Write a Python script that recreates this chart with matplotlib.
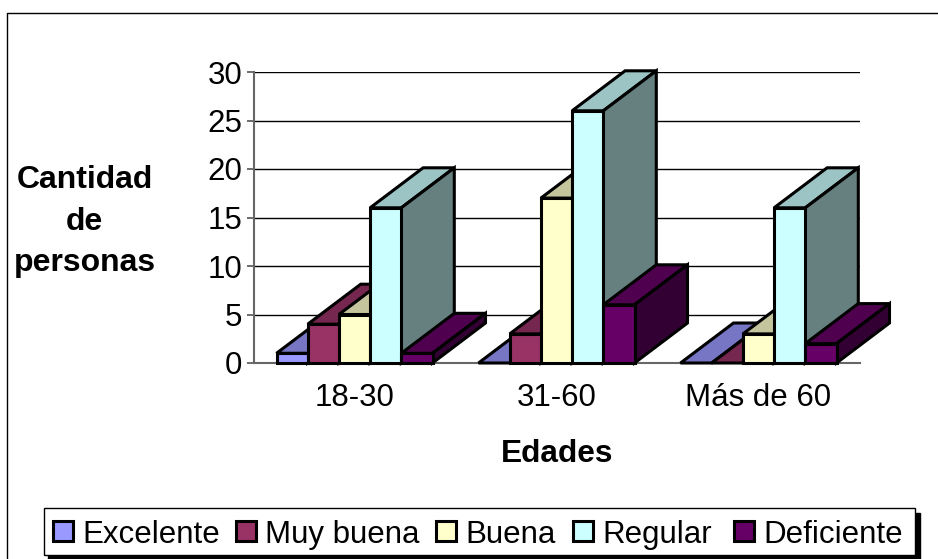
import matplotlib
matplotlib.use('Agg')
import matplotlib.pyplot as plt
from matplotlib.colors import to_rgb
from matplotlib.lines import Line2D
from matplotlib.patches import Polygon, Rectangle

plt.rcParams['font.family'] = ['Liberation Sans', 'DejaVu Sans']

# values
categories = ['18-30', '31-60', 'Más de 60']
series_names = ['Excelente', 'Muy buena', 'Buena', 'Regular', 'Deficiente']
excelente = [1, 0, 0]
muy_buena = [4, 3, 0]
buena = [5, 17, 3]
regular = [16, 26, 16]
deficiente = [1, 6, 2]
series_values = [excelente, muy_buena, buena, regular, deficiente]
y_ticks = [0, 5, 10, 15, 20, 25, 30]
colors = ['#9999FF', '#993366', '#FFFFCC', '#CCFFFF', '#660066']

W, H = 938, 559
BAR_W = 31.2 / 202
DEPTH_X = 53 / 202
DEPTH_Y = 40 / 9.7


def shade(color, factor):
    return tuple(c * factor for c in to_rgb(color))


def draw_bar(ax, x, val, color):
    x1 = x + BAR_W
    top = [(x, val), (x1, val), (x1 + DEPTH_X, val + DEPTH_Y), (x + DEPTH_X, val + DEPTH_Y)]
    side = [(x1, 0), (x1 + DEPTH_X, DEPTH_Y), (x1 + DEPTH_X, val + DEPTH_Y), (x1, val)]
    style = dict(edgecolor='black', linewidth=2.2, joinstyle='miter', clip_on=False)
    ax.add_patch(Polygon(top, facecolor=shade(color, 0.77), zorder=3, **style))
    if val > 0:
        ax.add_patch(Polygon(side, facecolor=shade(color, 0.5), zorder=3, **style))
        ax.add_patch(Rectangle((x, 0), BAR_W, val, facecolor=color, zorder=3, **style))


fig = plt.figure(figsize=(W / 100, H / 100), dpi=100)

# chart frame, only left and top edges are inside the picture
fig.add_artist(Line2D([6.5 / W, 6.5 / W, 1], [0, 1 - 12.5 / H, 1 - 12.5 / H], color='black', linewidth=1))

ax = fig.add_axes([253.5 / W, 1 - 363 / H, (860 - 253.5) / W, 291 / H])
ax.patch.set_alpha(0)
ax.set_xlim((253.5 - 354.5) / 202, (860 - 354.5) / 202)
ax.set_ylim(0, 30)
ax.set_yticks(y_ticks)
ax.tick_params(axis='y', labelsize=22.5, length=5, width=1.2, color='#555555', pad=3)
ax.set_xticks(range(len(categories)))
ax.set_xticklabels(categories, fontsize=22.5)
ax.tick_params(axis='x', length=0, pad=14.5)
ax.yaxis.grid(True, color='black', linewidth=1)
ax.set_axisbelow(True)
for name, spine in ax.spines.items():
    spine.set_visible(name in ('left', 'bottom'))
    spine.set_color('#666666')
    spine.set_linewidth(1.5)

n = len(series_values)
for c in range(len(categories)):
    start = c - n * BAR_W / 2
    for s in range(n):
        draw_bar(ax, start + s * BAR_W, series_values[s][c], colors[s])

fig.text(84.5 / W, 1 - 222 / H, 'Cantidad\nde\npersonas', fontsize=23, fontweight='bold', ha='center',
         va='center', linespacing=1.5)
fig.text(557 / W, 1 - 453.5 / H, 'Edades', fontsize=22.8, fontweight='bold', ha='center', va='center')

# legend box with its hard shadow
fig.add_artist(Rectangle((48 / W, 1 - 559 / H), 872 / W, 46 / H, transform=fig.transFigure,
                         facecolor='black', edgecolor='black', linewidth=1))
fig.add_artist(Rectangle((43.5 / W, 1 - 554.5 / H), 871.5 / W, 46.5 / H, transform=fig.transFigure,
                         facecolor='white', edgecolor='black', linewidth=1))
marker_x = [53, 236, 436, 573, 734]
text_x = [82, 265, 465, 602, 763]
for name, color, mx, tx in zip(series_names, colors, marker_x, text_x):
    fig.add_artist(Rectangle((mx / W, 1 - 541 / H), 20 / W, 20 / H, transform=fig.transFigure,
                             facecolor=color, edgecolor='black', linewidth=2.2))
    fig.text(tx / W, 1 - 543 / H, name, fontsize=22.5, ha='left', va='baseline')

fig.savefig('out.png', dpi=100)
